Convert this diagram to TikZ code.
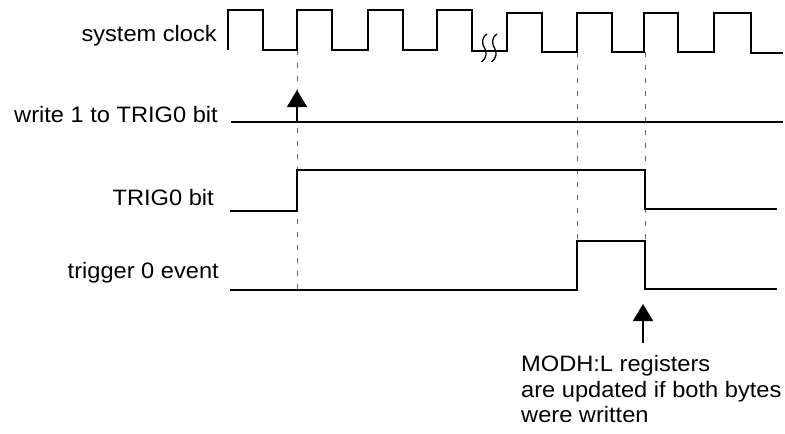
\documentclass[tikz,border=0pt]{standalone}
\usepackage{fontspec}
\setmainfont{Liberation Sans}[FakeStretch=1.06]
\usetikzlibrary{arrows.meta}
\begin{document}
\begin{tikzpicture}[x=1pt,y=-1pt,
  sig/.style={line width=1.6pt,line join=miter},
  guide/.style={gray!80!black,line width=1pt,dash pattern=on 5pt off 8pt},
  lbl/.style={font=\fontsize{22.3}{25.5}\selectfont,inner sep=0pt},
  marker/.style={line width=1.5pt,-{Triangle[width=20pt,length=17pt]}}]
\useasboundingbox (0,0) rectangle (785,434);
% labels
\node[lbl,anchor=base east] (lclk) at (217,41.7) {system clock};
\node[lbl,anchor=base east] (lwr) at (218,122.7) {write 1 to TRIG0 bit};
\node[lbl,anchor=base east] (ltrig) at (214,205) {TRIG0 bit};
\node[lbl,anchor=base east] (lev) at (219,278) {trigger 0 event};
% coordinates
\coordinate (c1) at (297,50);
\coordinate (c2) at (577,52);
\coordinate (c3) at (645,52);
\coordinate (w1) at (297,122);
\coordinate (w1t) at (297,90);
\coordinate (e1) at (297,290);
\coordinate (e2) at (577,241);
\coordinate (e3) at (645,241);
\coordinate (m0) at (643,342.5);
\coordinate (m1) at (643,304);
% guides
\draw[guide] (c1) -- (e1);
\draw[guide] (c2) -- (e2);
\draw[guide] (c3) -- (e3);
% clock
\draw[sig] (228,50) -- (228,10) -- (263,10) -- (263,50) -- (297,50) -- (297,10)
  -- (332,10) -- (332,50) -- (368,50) -- (368,10) -- (403,10) -- (403,50)
  -- (437,50) -- (437,10) -- (472,10) -- (472,51) -- (507,51) -- (507,13)
  -- (542,13) -- (542,52) -- (577,52) -- (577,13) -- (612,13) -- (612,52)
  -- (644,52) -- (644,13) -- (678,13) -- (678,52) -- (714,52) -- (714,13)
  -- (751,13) -- (751,53) -- (783,53);
% break symbol
\draw[line width=1.3pt] (487,34) .. controls (481,38) and (482,44) .. (484.5,48)
  .. controls (487,52) and (487,58) .. (481.5,62);
\draw[line width=1.3pt] (497,34) .. controls (491,38) and (492,44) .. (494.5,48)
  .. controls (497,52) and (497,58) .. (491.5,62);
% write line
\draw[sig] (231,122) -- (783,122);
\draw[marker] (w1) -- (w1t);
% TRIG0 bit
\draw[sig] (230,211) -- (297,211) -- (297,170) -- (645,170) -- (645,209) -- (777,209);
% trigger event
\draw[sig] (230,290) -- (577,290) -- (577,241) -- (645,241) -- (645,289) -- (777,289);
% bottom arrow and note
\draw[marker] (m0) -- (m1);
\node[lbl,anchor=base west] (n1) at (521,371.7) {MODH:L registers};
\node[lbl,anchor=base west] (n2) at (521,397.3) {are updated if both bytes};
\node[lbl,anchor=base west] (n3) at (521,422.7) {were written};
\end{tikzpicture}
\end{document}
